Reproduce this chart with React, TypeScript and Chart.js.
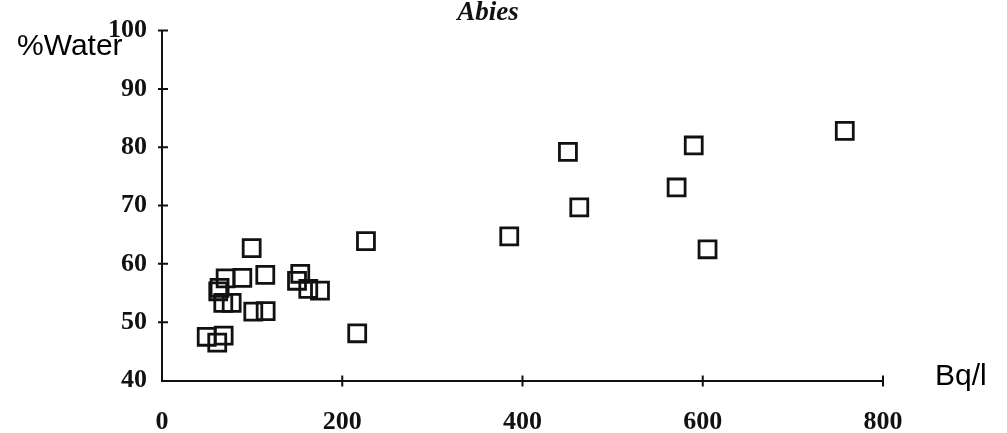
import React, { useEffect, useRef } from "react";
import { Chart, registerables } from "chart.js";

Chart.register(...registerables);

// Radioactivity (Bq/l) vs %Water — Abies
const bqValues: number[] = [
  757.6, 590, 450.4, 571, 463, 385.3, 605.3, 226.3, 216.6,
  99.5, 70.6, 89.1, 114.6, 63.9, 62.4, 68, 77.3, 101.3, 115,
  153.4, 149.8, 162.3, 175.3, 49.6, 68.4, 61.3,
];
const waterValues: number[] = [
  82.8, 80.3, 79.2, 73.1, 69.7, 64.7, 62.5, 63.9, 48.1,
  62.7, 57.5, 57.6, 58.1, 55.9, 55.3, 53.3, 53.3, 51.8, 51.9,
  58.3, 57.1, 55.7, 55.4, 47.5, 47.7, 46.5,
];
const xTicks: number[] = [0, 200, 400, 600, 800];
const yTicks: number[] = [40, 50, 60, 70, 80, 90, 100];
const titleText = "Abies";
const yAxisLabel = "%Water";
const xAxisLabel = "Bq/l";

const INK = "#111111";

const crossTicksPlugin = {
  id: "crossTicks",
  afterDraw(chart: any) {
    const { ctx, chartArea, scales } = chart;
    const xs = scales.x;
    const ys = scales.y;
    ctx.save();
    ctx.strokeStyle = INK;
    ctx.lineWidth = 2;
    ctx.beginPath();
    xTicks.forEach((v) => {
      if (v === 0) return;
      const px = xs.getPixelForValue(v);
      ctx.moveTo(px, chartArea.bottom - 5);
      ctx.lineTo(px, chartArea.bottom + 6);
    });
    yTicks.forEach((v) => {
      if (v === 40) return;
      const py = ys.getPixelForValue(v);
      ctx.moveTo(chartArea.left - 4, py);
      ctx.lineTo(chartArea.left + 6, py);
    });
    ctx.stroke();
    ctx.restore();
  },
};

const textPlugin = {
  id: "extraText",
  afterDraw(chart: any) {
    const { ctx, chartArea } = chart;
    ctx.save();
    ctx.fillStyle = INK;
    ctx.textBaseline = "alphabetic";
    ctx.textAlign = "center";
    ctx.font = "italic bold 27px 'Liberation Serif', serif";
    ctx.fillText(titleText, chartArea.left + 326, 20);
    ctx.fillStyle = "#000";
    ctx.textAlign = "left";
    ctx.font = "30px 'Liberation Sans', Arial, sans-serif";
    ctx.fillText(yAxisLabel, 17, 55);
    ctx.fillText(xAxisLabel, chartArea.right + 52, 385);
    ctx.restore();
  },
};

export default function App() {
  const canvasRef = useRef<HTMLCanvasElement | null>(null);

  useEffect(() => {
    document.body.style.margin = "0";
    const canvas = canvasRef.current;
    if (!canvas) return;
    const points = bqValues.map((x, i) => ({ x, y: waterValues[i] }));
    const tickFont = { family: "'Liberation Serif', 'Times New Roman', serif", size: 26, weight: "bold" as const };
    const chart = new Chart(canvas, {
      type: "scatter",
      data: {
        datasets: [
          {
            data: points,
            pointStyle: "rect",
            pointRadius: 12,
            pointHoverRadius: 12,
            borderWidth: 2.8,
            borderColor: INK,
            backgroundColor: "rgba(0,0,0,0)",
          },
        ],
      },
      options: {
        animation: false,
        responsive: false,
        maintainAspectRatio: false,
        devicePixelRatio: 1,
        layout: { padding: { left: 0, top: 17.3, right: 124, bottom: 0 } },
        plugins: {
          legend: { display: false },
          title: { display: false },
          tooltip: { enabled: false },
        },
        scales: {
          x: {
            type: "linear",
            min: 0,
            max: 800,
            afterBuildTicks: (scale: any) => {
              scale.ticks = xTicks.map((v) => ({ value: v }));
            },
            afterFit: (scale: any) => {
              scale.height = 52.5;
            },
            ticks: { color: INK, font: tickFont, padding: 26 },
            grid: { display: false, drawTicks: false },
            border: { display: true, color: INK, width: 2 },
          },
          y: {
            type: "linear",
            min: 40,
            max: 100,
            afterBuildTicks: (scale: any) => {
              scale.ticks = yTicks.map((v) => ({ value: v }));
            },
            afterFit: (scale: any) => {
              scale.width = 162;
            },
            ticks: { color: INK, font: tickFont, padding: 15 },
            grid: { display: false, drawTicks: false },
            border: { display: true, color: INK, width: 2 },
          },
        },
      },
      plugins: [crossTicksPlugin, textPlugin],
    });
    return () => chart.destroy();
  }, []);

  return (
    <div style={{ width: 1007, height: 433, background: "#fff" }}>
      <canvas ref={canvasRef} width={1007} height={433} style={{ display: "block" }} />
    </div>
  );
}
